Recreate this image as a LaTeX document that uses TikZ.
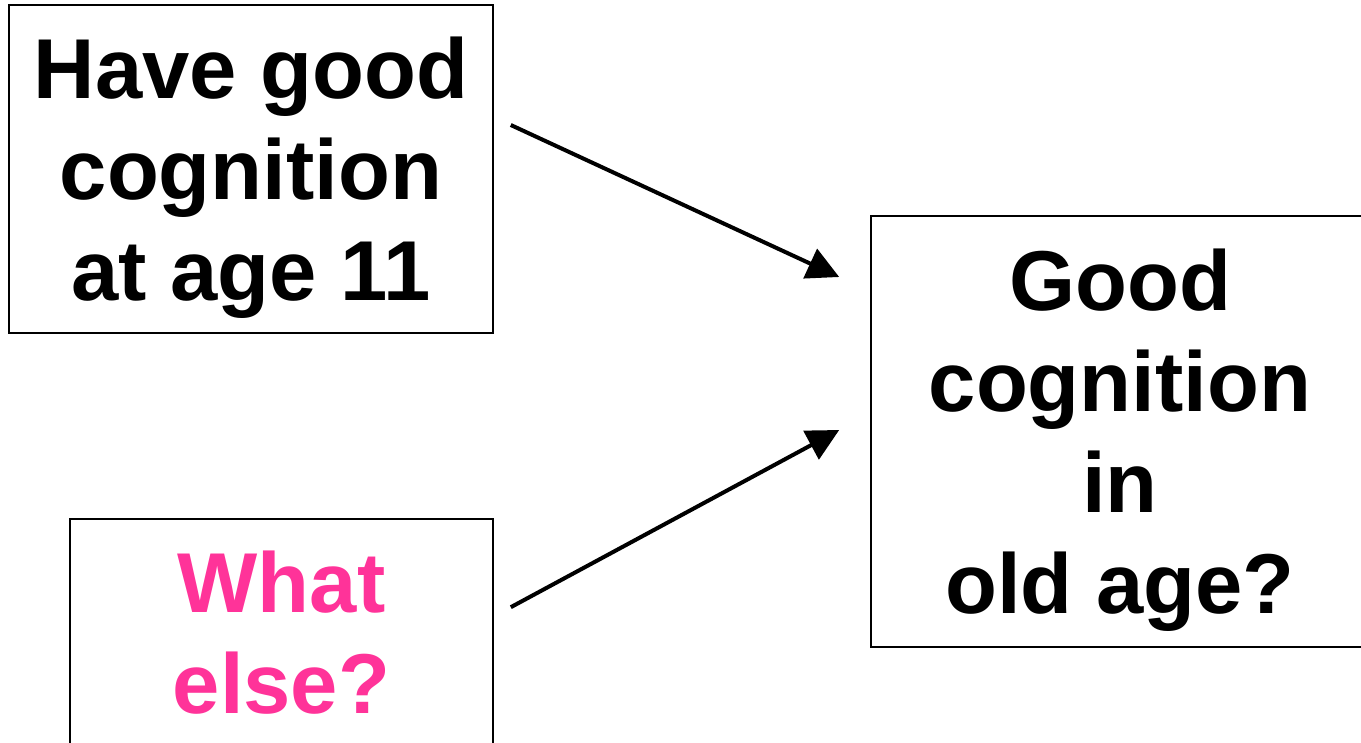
\documentclass[tikz,border=0pt]{standalone}
\usepackage{fontspec}
\setmainfont{Liberation Sans}
\usepackage{xcolor}
\usepackage{tikz}
\usetikzlibrary{arrows.meta}
\usetikzlibrary{positioning}
\usetikzlibrary{calc}
\definecolor{HotPink}{HTML}{FF3399}

\begin{document}
\begin{tikzpicture}[line cap=butt,line join=miter,x=1pt,y=-1pt,
  box/.style={draw=black,line width=1.6pt,rectangle,align=center,inner sep=0pt,
    font=\fontsize{85}{101}\selectfont\bfseries},
  arr/.style={-{Triangle[length=32pt,width=32pt]},line width=4pt,color=black}]
\useasboundingbox (0,0) rectangle (1361,743);
\clip (0,0) rectangle (1361,743);
%\draw[color=black] (0,0) rectangle (1361,743);
\node[box,text depth=0pt,minimum width=484pt,minimum height=328pt] (age11) at (251,169) {Have good\\cognition\\at age 11};
\node[box,minimum width=423pt,minimum height=227pt] (else) at (281.5,632.5) {\textcolor{HotPink}{What}\\\textcolor{HotPink}{else?}};
\node[box,text depth=0pt,minimum width=498pt,minimum height=431pt] (oldage) at (1120,431.5) {Good\\cognition\\in\\old age?};
\draw [arr] ([xshift=17pt,yshift=44pt]age11.east) -- ([xshift=-31pt,yshift=154.5pt]oldage.west);
\draw [arr] ([xshift=17pt,yshift=-89pt]else.north east) -- ([xshift=-31pt,yshift=1.5pt]oldage.west);
\end{tikzpicture}
\end{document}
